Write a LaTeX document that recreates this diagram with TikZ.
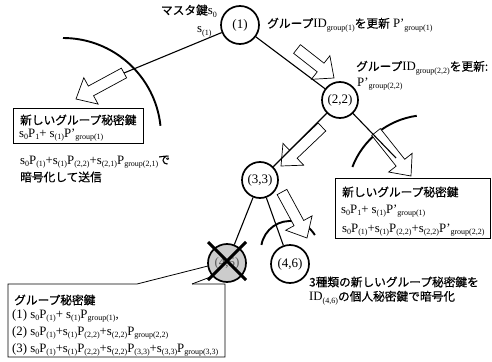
\documentclass[tikz,border=0pt]{standalone}
\usepackage{fontspec}
\setmainfont{Liberation Serif}
\newfontfamily\jpf[FakeBold=0.6]{Noto Sans CJK JP}
\newcommand\J[1]{{\jpf\fontsize{11.7}{13}\selectfont #1}}
\newcommand\sbs[1]{\raisebox{-0.45ex}{\fontsize{8}{9}\selectfont #1}}
\newcommand\harrow[4]{%
 \pgfmathsetmacro\hdx{#3-#1}\pgfmathsetmacro\hdy{#4-#2}%
 \pgfmathsetmacro\hL{veclen(\hdx,\hdy)}%
 \pgfmathsetmacro\hux{\hdx/\hL}\pgfmathsetmacro\huy{\hdy/\hL}%
 \pgfmathsetmacro\hb{\hL-17}%
 \coordinate (h1) at ({#1+5.5*\huy},{#2-5.5*\hux});
 \coordinate (h2) at ({#1+\hb*\hux+5.5*\huy},{#2+\hb*\huy-5.5*\hux});
 \coordinate (h3) at ({#1+\hb*\hux+15*\huy},{#2+\hb*\huy-15*\hux});
 \coordinate (h4) at (#3,#4);
 \coordinate (h5) at ({#1+\hb*\hux-15*\huy},{#2+\hb*\huy+15*\hux});
 \coordinate (h6) at ({#1+\hb*\hux-5.5*\huy},{#2+\hb*\huy+5.5*\hux});
 \coordinate (h7) at ({#1-5.5*\huy},{#2+5.5*\hux});
 \draw[harr] (h1)--(h2)--(h3)--(h4)--(h5)--(h6)--(h7)--cycle;}
\tikzset{
 nd/.style={circle, draw, line width=1.7pt, minimum size=36pt, inner sep=0pt, fill=white, font=\fontsize{13}{13}\selectfont},
 ln/.style={line width=1.1pt},
 arcl/.style={line width=1.9pt},
 harr/.style={draw, fill=white, line width=0.7pt, line join=miter},
 box/.style={draw, line width=0.8pt},
 txt/.style={anchor=west, inner sep=0pt, font=\fontsize{12.8}{15}\selectfont},
}
\begin{document}
\begin{tikzpicture}[x=1pt,y=-1pt]
\useasboundingbox[fill=white] (0,0) rectangle (492,361);
% arcs
\draw[arcl] (63,136) ++(-90:98) arc[start angle=-90, end angle=-6, radius=98];
\draw[arcl] (428,196) ++(201:81) arc[start angle=201, end angle=262, radius=81];
\draw[arcl] (290,250) ++(190:29) arc[start angle=190, end angle=329, radius=29];
% nodes
\node[nd, minimum size=38pt] (n1) at (240,25) {(1)};
\node[nd] (n22) at (340,100) {(2,2)};
\node[nd] (n33) at (260,180) {(3,3)};
\node[nd, minimum size=38pt, fill=gray!40] (n45) at (227,263) {\textcolor{gray!70!black}{(4,5)}};
\node[nd, minimum size=38pt] (n46) at (290,264) {(4,6)};
\coordinate (lend) at (124,73);
\coordinate (rend) at (396,158);
% hollow arrows
\harrow{124}{73}{76}{99}
\harrow{297}{49}{334}{78}
\harrow{322}{127}{281}{166}
\harrow{282}{192}{307}{238}
\harrow{376}{132}{411}{176}
% connectors
\draw[ln] (n1) -- (lend);
\draw[ln] (n1) -- (n22);
\draw[ln] (n22) -- (rend);
\draw[ln] (n22) -- (n33);
\draw[ln] (n33) -- (n45);
\draw[ln] (n33) -- (n46);
% cross
\draw[line width=3pt] (n45) ++(-19,-21) -- ++(38,38);
\draw[line width=3pt] (n45) ++(19,-21) -- ++(-38,38);
% boxes
\draw[box] (13,108) rectangle (143,143);
\draw[box] (335,178) rectangle (490,238);
\coordinate (p1) at (208,266);
\coordinate (p2) at (213,276);
\draw[box] (192,284) -- (p2);
\draw[box] (p1) -- (137,284) -- (8,284) -- (8,357) -- (225,357) -- (225,284) -- (192,284);
% texts
\node[txt, anchor=east] (t1) at (217,11) {\J{マスタ鍵}s\sbs{0}};
\node[txt] (t2) at (197,32) {s\sbs{(1)}};
\node[txt] (t3) at (267,25) {\J{グループ}ID\sbs{group(1)}\J{を更新} P'\sbs{group(1)}};
\node[txt] (t4) at (356,68) {\J{グループ}ID\sbs{group(2,2)}\J{を更新:}};
\node[txt] (t5) at (357,84) {P'\sbs{group(2,2)}};
\node[txt] (b1a) at (20,120) {\J{新しいグループ秘密鍵}};
\node[txt] (b1b) at (19,135) {s\sbs{0}P\sbs{1}+ s\sbs{(1)}P'\sbs{group(1)}};
\node[txt] (l1) at (20,162) {s\sbs{0}P\sbs{(1)}+s\sbs{(1)}P\sbs{(2,2)}+s\sbs{(2,1)}P\sbs{group(2,1)}\J{で}};
\node[txt] (l2) at (20,177) {\J{暗号化して送信}};
\node[txt] (b2a) at (342,192) {\J{新しいグループ秘密鍵}};
\node[txt] (b2b) at (341,211) {s\sbs{0}P\sbs{1}+ s\sbs{(1)}P'\sbs{group(1)}};
\node[txt] (b2c) at (342,230) {s\sbs{0}P\sbs{(1)}+s\sbs{(1)}P\sbs{(2,2)}+s\sbs{(2,2)}P'\sbs{group(2,2)}};
\node[txt] (r1) at (309,282) {\J{3種類の新しいグループ秘密鍵を}};
\node[txt] (r2) at (309,298) {ID\sbs{(4,6)}\J{の個人秘密鍵で暗号化}};
\node[txt] (b3a) at (14,300) {\J{グループ秘密鍵}};
\node[txt] (b3b) at (12,316) {(1) s\sbs{0}P\sbs{(1)}+ s\sbs{(1)}P\sbs{group(1)},};
\node[txt] (b3c) at (12,333) {(2) s\sbs{0}P\sbs{(1)}+s\sbs{(1)}P\sbs{(2,2)}+s\sbs{(2,2)}P\sbs{group(2,2)}};
\node[txt] (b3d) at (12,350) {(3) s\sbs{0}P\sbs{(1)}+s\sbs{(1)}P\sbs{(2,2)}+s\sbs{(2,2)}P\sbs{(3,3)}+s\sbs{(3,3)}P\sbs{group(3,3)}};
\end{tikzpicture}
\end{document}
